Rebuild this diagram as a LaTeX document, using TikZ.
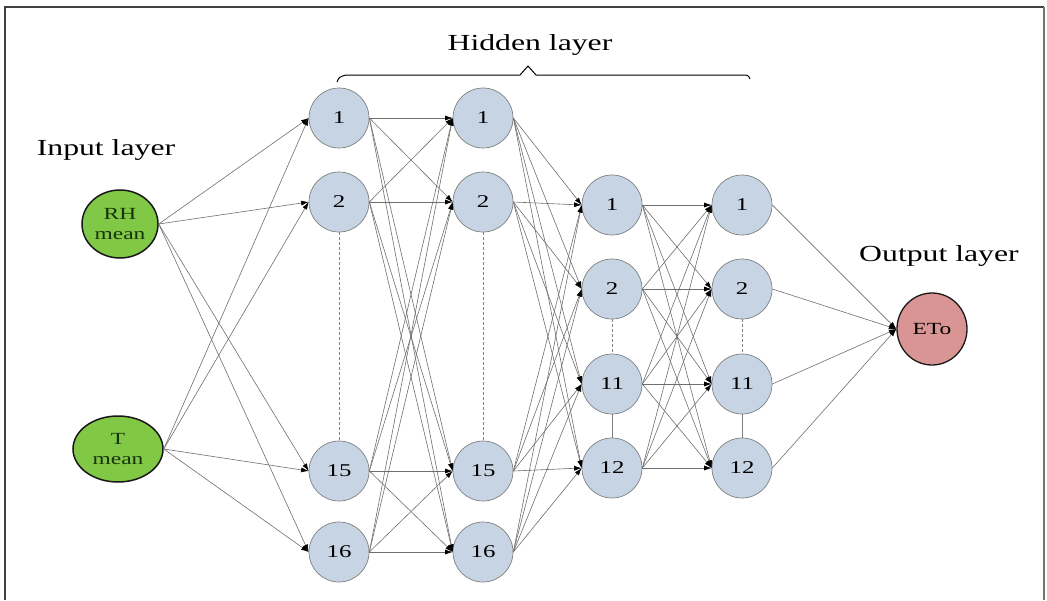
\documentclass[tikz,border=0pt]{standalone}
\usepackage{fontspec}
\setmainfont{Liberation Serif}
\newfontfamily\wideserif[FakeStretch=1.38]{Liberation Serif}
\usetikzlibrary{arrows.meta,shapes.geometric}
\definecolor{hidfill}{HTML}{C6D4E4}
\definecolor{hidborder}{HTML}{7F7F7F}
\definecolor{inpfill}{HTML}{80C846}
\definecolor{outfill}{HTML}{D99594}
\definecolor{edgegray}{HTML}{6E6E6E}
\definecolor{txtgreen}{HTML}{17330A}
\tikzset{
  hid/.style={circle,draw=hidborder,fill=hidfill,minimum size=60pt,inner sep=0pt,line width=0.7pt,font=\wideserif\fontsize{18}{18}\selectfont},
  inp/.style={ellipse,draw=black!90,fill=inpfill,inner sep=0pt,line width=1.5pt,align=center,text=txtgreen,font=\wideserif\fontsize{17}{20}\selectfont},
  outn/.style={ellipse,draw=black!90,fill=outfill,inner sep=0pt,line width=1.3pt,minimum width=70pt,minimum height=72pt,font=\wideserif\fontsize{17}{17}\selectfont},
  conn/.style={draw=edgegray,line width=0.6pt,-{Latex[length=7.5pt,width=5pt,color=black]}},
  vdash/.style={draw=gray,line width=0.8pt,dashed,dash pattern=on 3pt off 2pt},
  vsolid/.style={draw=gray,line width=0.8pt},
  lbl/.style={font=\wideserif\fontsize{23}{24}\selectfont},
}
\begin{document}
\begin{tikzpicture}[x=1pt,y=-1pt]
\useasboundingbox (0,0) rectangle (1047,600);
% frame
\draw[line width=1.6pt,color=black!75] (5,600) -- (5,7) -- (1044,7);
\draw[line width=1.6pt,color=black!55] (1044,7) -- (1044,600);

% labels
\node[lbl] (tin) at (106,150) {Input layer};
\node[lbl] (thid) at (530,45) {Hidden layer};
\node[lbl] (tout) at (939,256) {Output layer};
\draw[line width=1pt] (337,82) .. controls (339,77) .. (346,75) -- (520,75) -- (528,66) -- (536,75) -- (742,75) .. controls (748,75) .. (750,79);

% input nodes
\node[inp,minimum width=76pt,minimum height=68pt] (rh) at (120,224) {RH\\mean};
\node[inp,minimum width=90pt,minimum height=66pt] (tm) at (118,449) {T\\mean};

% hidden layers
\foreach \n/\y in {1/118,2/202,15/471,16/552}{
  \node[hid] (b\n) at (339,\y) {\n};
  \node[hid] (c\n) at (483,\y) {\n};
}
\foreach \n/\y in {1/205,2/289,11/384,12/468}{
  \node[hid] (d\n) at (612,\y) {\n};
  \node[hid] (e\n) at (742,\y) {\n};
}
\node[outn] (o) at (932,329) {ETo};

% vertical links
\draw[vdash] (b2) -- (b15);
\draw[vdash] (c2) -- (c15);
\draw[vdash] (d2) -- (d11);
\draw[vdash] (e2) -- (e11);
\draw[vsolid] (d11) -- (d12);
\draw[vsolid] (e11) -- (e12);

% connections
\foreach \s in {rh,tm}
  \foreach \t in {1,2,15,16}
    \draw[conn] (\s.east) -- (b\t.west);
\foreach \s in {1,2,15,16}
  \foreach \t in {1,2,15,16}
    \draw[conn] (b\s.east) -- (c\t.west);
\foreach \s in {1,2,15,16}
  \foreach \t in {1,2,11,12}
    \draw[conn] (c\s.east) -- (d\t.west);
\foreach \s in {1,2,11,12}
  \foreach \t in {1,2,11,12}
    \draw[conn] (d\s.east) -- (e\t.west);
\foreach \s in {1,2,11,12}
  \draw[conn] (e\s.east) -- (o.west);
\end{tikzpicture}
\end{document}
